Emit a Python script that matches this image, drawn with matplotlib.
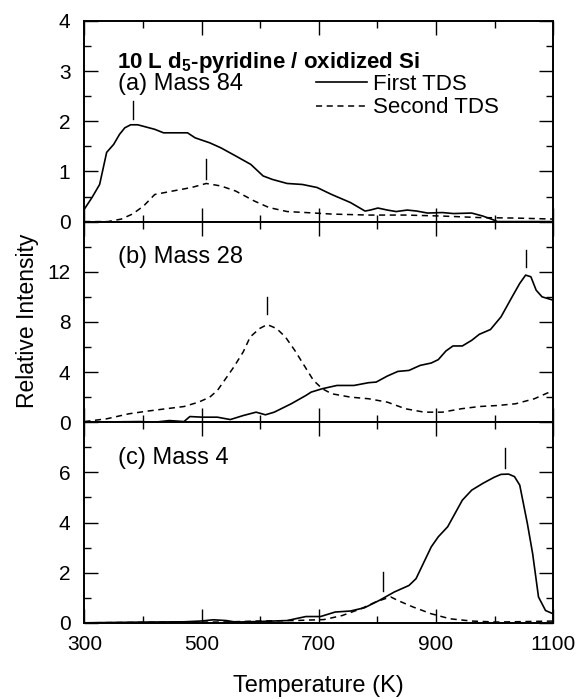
import numpy as np
import matplotlib
matplotlib.use("Agg")
import matplotlib.pyplot as plt
from matplotlib.ticker import MultipleLocator, FixedLocator

plt.rcParams['font.family'] = ['Liberation Sans', 'DejaVu Sans']
plt.rcParams['mathtext.fontset'] = 'custom'
plt.rcParams['mathtext.rm'] = 'Liberation Sans'
plt.rcParams['mathtext.bf'] = 'Liberation Sans:bold'

# (a) mass 84
a1_T = [300, 313, 326, 338, 350, 360, 369, 379, 391, 420, 435, 464, 476, 489, 514, 533, 558,
        584, 605, 621, 646, 672, 697, 722, 754, 779, 788, 801, 817, 832, 851, 867, 886, 911,
        930, 961, 980, 999, 1005, 1100]
a1_I = [0.25, 0.48, 0.74, 1.38, 1.54, 1.74, 1.87, 1.93, 1.93, 1.84, 1.77, 1.77, 1.77, 1.67,
        1.57, 1.47, 1.31, 1.14, 0.91, 0.84, 0.76, 0.74, 0.68, 0.54, 0.38, 0.21, 0.23, 0.27,
        0.23, 0.20, 0.23, 0.21, 0.17, 0.18, 0.16, 0.17, 0.11, 0.03, 0.0, 0.0]
a2_T = [300, 340, 363, 382, 401, 420, 451, 483, 508, 533, 558, 590, 615, 646, 678, 722, 785,
        848, 911, 974, 1037, 1100]
a2_I = [0.0, 0.0, 0.05, 0.15, 0.31, 0.54, 0.61, 0.68, 0.76, 0.71, 0.61, 0.41, 0.28, 0.20,
        0.18, 0.15, 0.13, 0.13, 0.11, 0.08, 0.07, 0.05]

# (b) mass 28
b1_T = [300, 395, 420, 445, 470, 480, 502, 527, 549, 571, 593, 609, 624, 653, 678, 687, 706,
        731, 760, 785, 798, 817, 835, 854, 873, 892, 904, 917, 929, 945, 961, 974, 993, 1011,
        1030, 1043, 1053, 1062, 1071, 1081, 1100]
b1_I = [0.0, 0.05, 0.0, 0.13, 0.05, 0.45, 0.40, 0.40, 0.21, 0.53, 0.80, 0.59, 0.80, 1.47,
        2.13, 2.40, 2.67, 2.93, 2.93, 3.15, 3.20, 3.68, 4.05, 4.13, 4.53, 4.72, 4.99, 5.68,
        6.08, 6.08, 6.53, 7.01, 7.39, 8.40, 10.0, 11.07, 11.73, 11.60, 10.53, 10.0, 9.73]
b2_T = [300, 338, 376, 407, 439, 470, 495, 514, 527, 539, 555, 571, 583, 599, 612, 628, 643,
        659, 675, 691, 706, 722, 754, 785, 817, 848, 880, 911, 943, 974, 1005, 1036, 1068, 1100]
b2_I = [0.05, 0.27, 0.67, 0.88, 1.07, 1.25, 1.60, 2.00, 2.53, 3.33, 4.40, 5.60, 6.80, 7.47,
        7.79, 7.47, 6.80, 5.73, 4.53, 3.33, 2.67, 2.27, 2.00, 1.87, 1.60, 1.07, 0.80, 0.80,
        1.07, 1.25, 1.33, 1.47, 1.87, 2.53]

# (c) mass 4
c1_T = [300, 407, 470, 498, 520, 542, 558, 596, 646, 678, 703, 728, 754, 778, 803, 829, 854,
        866, 892, 904, 920, 945, 961, 980, 999, 1011, 1024, 1034, 1043, 1056, 1065, 1075,
        1087, 1100]
c1_I = [0.0, 0.03, 0.04, 0.07, 0.12, 0.09, 0.03, 0.05, 0.09, 0.25, 0.25, 0.43, 0.47, 0.60,
        0.89, 1.23, 1.49, 1.76, 3.03, 3.43, 3.83, 4.89, 5.29, 5.56, 5.80, 5.92, 5.93, 5.83,
        5.49, 3.96, 2.76, 1.03, 0.49, 0.36]
c2_T = [300, 470, 533, 596, 659, 709, 740, 772, 797, 813, 823, 835, 861, 892, 924, 961, 1005,
        1100]
c2_I = [0.0, 0.03, 0.03, 0.07, 0.09, 0.13, 0.29, 0.56, 0.83, 0.96, 1.03, 0.89, 0.63, 0.36,
        0.16, 0.07, 0.03, 0.07]

# peak markers: (temperature, bottom, top)
a_marks = [(383, 2.04, 2.40), (508, 0.84, 1.24)]
b_marks = [(612, 8.6, 9.95), (1053, 12.4, 13.7)]
c_marks = [(1018, 6.16, 6.96), (810, 1.27, 2.03)]

x_ticks = [300, 500, 700, 900, 1100]

panels = [
    (a1_T, a1_I, a2_T, a2_I, a_marks, 4, 1, "(a) Mass 84", 2.74),
    (b1_T, b1_I, b2_T, b2_I, b_marks, 16, 4, "(b) Mass 28", 13.2),
    (c1_T, c1_I, c2_T, c2_I, c_marks, 8, 2, "(c) Mass 4", 6.56),
]

fig = plt.figure(figsize=(5.78, 6.99), dpi=100)
gs = fig.add_gridspec(3, 1, left=0.146, right=0.957, bottom=0.109, top=0.970, hspace=0)
axes = [fig.add_subplot(gs[i]) for i in range(3)]

for k, (ax, (t1, i1, t2, i2, marks, ymax, ystep, label, ly)) in enumerate(zip(axes, panels)):
    ax.plot(t1, i1, color='black', lw=1.2, label='First TDS')
    ax.plot(t2, i2, color='black', lw=1.1, ls=(0, (4, 3)), label='Second TDS')
    for t, y0, y1 in marks:
        ax.plot([t, t], [y0, y1], color='black', lw=1.0)
    ax.set_xlim(300, 1100)
    ax.set_ylim(0, ymax)
    ax.xaxis.set_major_locator(FixedLocator(x_ticks))
    ax.xaxis.set_minor_locator(MultipleLocator(100))
    yt = list(np.arange(0, ymax + ystep / 2, ystep))
    ax.set_yticks(yt)
    labels = [f"{v:g}" for v in yt]
    if k > 0:
        labels[-1] = ""  # top value sits under the panel above
    ax.set_yticklabels(labels)
    ax.yaxis.set_minor_locator(MultipleLocator(ystep / 2))
    ax.tick_params(which='both', direction='in', top=True, right=True, width=1.0,
                   labelsize=15)
    ax.tick_params(which='major', length=10)
    ax.tick_params(which='minor', length=5)
    ax.tick_params(axis='y', which='major', pad=10)
    ax.tick_params(axis='x', which='major', pad=9)
    for sp in ax.spines.values():
        sp.set_linewidth(1.4)
    ax.text(358, ly, label, fontsize=17, va='center', ha='left')

for ax in axes[:-1]:
    ax.tick_params(labelbottom=False)

axes[0].text(355, 3.17, r"10 L d$_{\mathbf{5}}$-pyridine / oxidized Si", fontsize=16,
             fontweight='bold', va='center', ha='left')
axes[0].legend(loc='center left', bbox_to_anchor=(695, 2.5),
               bbox_transform=axes[0].transData, frameon=False,
               fontsize=16, handlelength=2.3, handletextpad=0.25, labelspacing=0.1,
               borderaxespad=0, borderpad=0)

fig.text(0.048, 0.541, "Relative Intensity", rotation=90, fontsize=16.5,
         ha='center', va='center')
fig.text(0.55, 0.019, "Temperature (K)", fontsize=17, ha='center', va='center')

fig.savefig("out.png", dpi=100)
